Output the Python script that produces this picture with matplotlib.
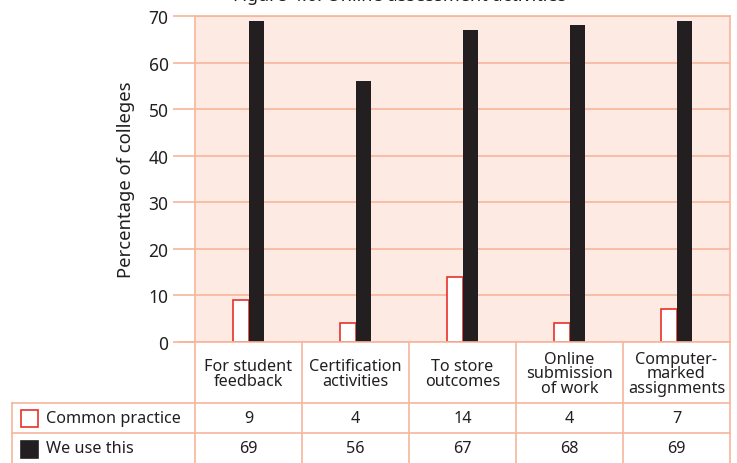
import matplotlib
matplotlib.use("Agg")
import matplotlib.pyplot as plt
from matplotlib.patches import Rectangle
import numpy as np

plt.rcParams['font.family'] = ['Noto Sans', 'DejaVu Sans']

categories = ["For student\nfeedback", "Certification\nactivities", "To store\noutcomes",
              "Online\nsubmission\nof work", "Computer-\nmarked\nassignments"]
common_practice = [9, 4, 14, 4, 7]
we_use_this = [69, 56, 67, 68, 69]
series_names = ["Common practice", "We use this"]

grid_col = "#f7b59b"
bg_col = "#fdebe3"
red = "#e8312a"
black = "#231f20"
text_col = "#231f20"

W, H = 737, 464
fig = plt.figure(figsize=(W / 100, H / 100), dpi=100)

# pixel layout of the plot and the table underneath
left, right, top, bottom = 195, 730, 17, 343
row1, row2, row3 = 404, 434, 470
legend_left = 12

ax = fig.add_axes([left / W, 1 - bottom / H, (right - left) / W, (bottom - top) / H])
ax.set_facecolor(bg_col)
x = np.arange(len(categories))
bw = 0.145
ax.bar(x - bw / 2, common_practice, bw, color="white", edgecolor=red, linewidth=1.2, zorder=3)
ax.bar(x + bw / 2, we_use_this, bw, color=black, zorder=3)
ax.set_xlim(-0.5, len(categories) - 0.5)
ax.set_ylim(0, 70)
ax.set_yticks(range(0, 71, 10))
ax.set_xticks([])
ax.tick_params(axis="y", length=16, color=grid_col, width=1.2, labelsize=12.5,
               labelcolor=text_col, pad=3)
ax.yaxis.grid(True, color=grid_col, linewidth=1.2, zorder=0)
for s in ax.spines.values():
    s.set_color(grid_col)
    s.set_linewidth(1.2)
ax.spines["bottom"].set_visible(False)
ax.set_ylabel("Percentage of colleges", fontsize=13.3, color=text_col, labelpad=10)

# overlay in pixel coordinates for the data table and title
ov = fig.add_axes([0, 0, 1, 1], facecolor="none")
ov.set_xlim(0, W)
ov.set_ylim(H, 0)
ov.axis("off")

lk = dict(color=grid_col, linewidth=1.2)
col_w = (right - left) / len(categories)
edges = [left + i * col_w for i in range(len(categories) + 1)]
for e in edges:
    ov.plot([e, e], [bottom, row3], **lk)
ov.plot([legend_left, legend_left], [row1, row3], **lk)
ov.plot([179, right], [bottom, bottom], **lk)
for yy in (row1, row2):
    ov.plot([legend_left, right], [yy, yy], **lk)

for i, cat in enumerate(categories):
    cx = (edges[i] + edges[i + 1]) / 2
    ov.text(cx, (bottom + row1) / 2 + 1, cat, ha="center", va="center",
            fontsize=11.7, color=text_col, linespacing=0.85)
    ov.text(cx, (row1 + row2) / 2, str(common_practice[i]), ha="center", va="center",
            fontsize=11.7, color=text_col)
    ov.text(cx, (row2 + 464) / 2, str(we_use_this[i]), ha="center", va="center",
            fontsize=11.7, color=text_col)

ov.add_patch(Rectangle((21, 411), 17, 17, facecolor="white", edgecolor=red, linewidth=1.2))
ov.add_patch(Rectangle((21, 442), 17, 17, facecolor=black, edgecolor=black, linewidth=1.2))
ov.text(46, (row1 + row2) / 2, series_names[0], ha="left", va="center", fontsize=11.7, color=text_col)
ov.text(46, (row2 + 464) / 2, series_names[1], ha="left", va="center", fontsize=11.7, color=text_col)

ov.text(400, 5, "Figure 4.6: Online assessment activities", ha="center", va="bottom",
        fontsize=13, fontweight="bold", color=text_col)

fig.savefig("out.png", dpi=100)
